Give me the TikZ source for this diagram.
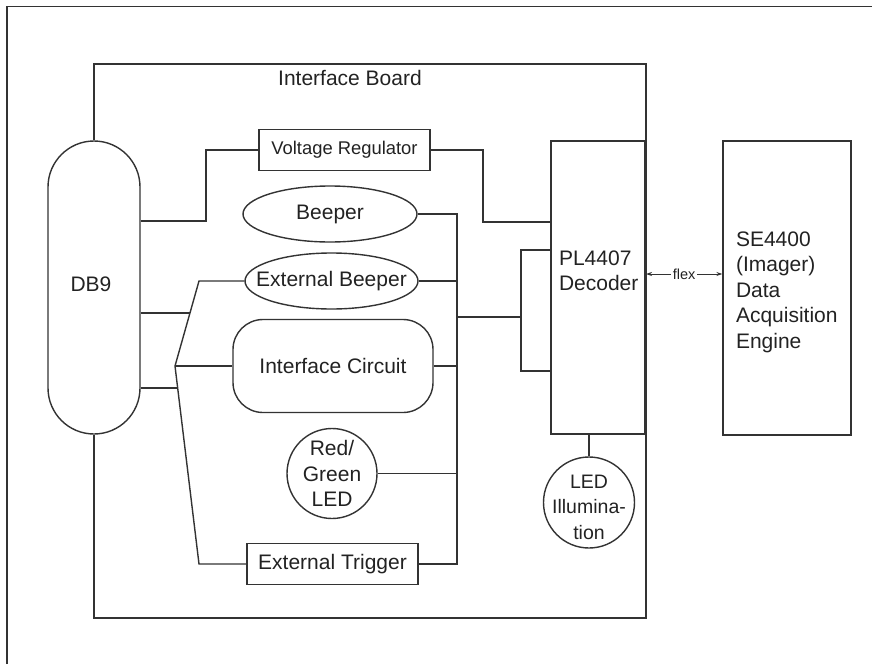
\documentclass[tikz,border=0pt]{standalone}
\usepackage{fontspec}
\setmainfont{Liberation Sans}
\usetikzlibrary{shapes.geometric,arrows.meta}
\definecolor{ln}{HTML}{333333}
\definecolor{tx}{HTML}{222222}
\begin{document}
\begin{tikzpicture}[x=1pt,y=-1pt,line width=1.4pt,color=ln,
  every node/.style={text=tx,font=\fontsize{21}{25.5}\selectfont},
  box/.style={draw=ln,rectangle,inner sep=0pt},
  ell/.style={draw=ln,ellipse,minimum width=174pt,minimum height=56pt,inner sep=0pt},
  circ/.style={draw=ln,circle,inner sep=0pt}]
\useasboundingbox (0,0) rectangle (872,664);
% outer frame (cropped)
\draw (7,664) -- (7,6.5) -- (872,6.5);

% nodes
\node[box,minimum width=92pt,minimum height=293pt,rounded corners=46pt] (db9) at (94,287.5) {};
\node (db9text) at (91,284) {DB9};
\node (boardlbl) at (350,78) {Interface Board};
\node[box,minimum width=171pt,minimum height=41pt,font=\fontsize{18.4}{22}\selectfont] (vr) at (344.5,150) {Voltage Regulator};
\node[ell] (beep) at (330,214) {Beeper};
\node[ell,minimum width=173pt] (ebeep) at (331.5,281) {\makebox[0pt]{External Beeper}};
\node[box,rounded corners=30pt,minimum width=200pt,minimum height=93pt] (ic) at (333,366) {Interface Circuit};
\node[circ,minimum size=90pt] (rg) at (332,473.5) {};
\node[align=center] (rgtext) at (332,473.5) {Red/\\Green\\LED};
\node[box,minimum width=171pt,minimum height=41pt] (et) at (332.5,564) {External Trigger};
\node[box,minimum width=94pt,minimum height=293pt] (dec) at (598,287.5) {};
\node[align=left,anchor=west] (dectext) at (555,271) {PL4407\\Decoder};
\node[circ,minimum size=91pt] (led) at (589,502.5) {};
\node[align=center,font=\fontsize{19.5}{25.5}\selectfont] (ledtext) at (589,507) {LED\\Illumina-\\tion};
\node[box,minimum width=128pt,minimum height=294pt] (se) at (787,288) {};
\node[align=left,anchor=west] (setext) at (732,292) {SE4400\\(Imager)\\Data\\Acquisition\\Engine};

% interface board outline
\coordinate (btl) at (94,64);
\coordinate (bbr) at (646,618);
\draw (db9.north) -- (btl) -- (bbr |- btl) -- (bbr) -- (btl |- bbr) -- (db9.south);

% voltage regulator wiring
\coordinate (j1) at (206,221);
\draw (db9.east |- j1) -- (j1) |- (vr.west);
\coordinate (j2) at (483,222);
\draw (vr.east) -| (j2) -- (dec.west |- j2);

% bus
\coordinate (bt) at (457,214);
\draw (beep.east) -- (bt |- beep.east) -- (bt |- et.east) -- (et.east);
\draw (ebeep.east) -- (bt |- ebeep.east);
\draw (ic.east) -- (bt |- ic.east);
\draw (rg.east) -- (bt |- rg.east);
\coordinate (bk) at (521,317);
\draw (bt |- bk) -- (bk);
\coordinate (bkt) at (521,250);
\coordinate (bkb) at (521,371);
\draw (dec.west |- bkt) -- (bkt) -- (bkb) -- (dec.west |- bkb);

% fan from DB9
\coordinate (F) at (175,366);
\coordinate (A) at (199,281);
\coordinate (B) at (199,564);
\draw (ebeep.west) -- (A) -- (F) -- (B) -- (et.west);
\draw (F) -- (ic.west);
\coordinate (d1) at (0,313);
\coordinate (d1r) at (300,313);
\coordinate (d2) at (0,388);
\coordinate (d2r) at (300,388);
\draw (db9.east |- d1) -- (intersection of F--A and d1--d1r);
\draw (db9.east |- d2) -- (intersection of F--B and d2--d2r);

% LED illumination
\draw (led.north) -- (led.north |- dec.south);

% flex
\coordinate (fl) at (0,274);
\draw[line width=0.9pt,{Stealth[length=6pt,width=4pt]}-{Stealth[length=6pt,width=4pt]}]
  (bbr |- fl) -- node[fill=white,inner sep=1.5pt,font=\fontsize{14.5}{16}\selectfont] (flexlbl) {flex} (se.west |- fl);
\end{tikzpicture}
\end{document}
